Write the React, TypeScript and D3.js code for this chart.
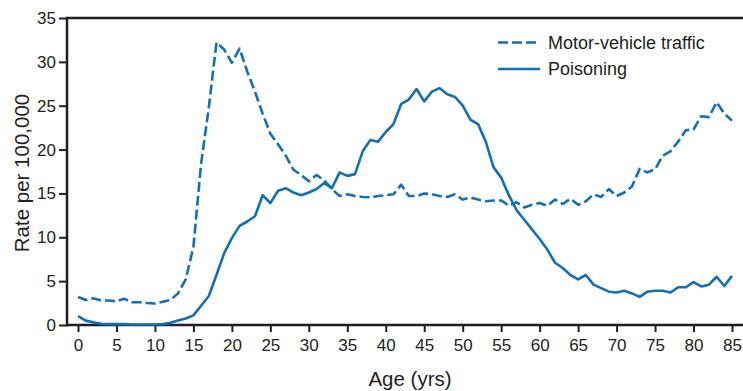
import React, { useRef, useEffect } from 'react';
import * as d3 from 'd3';

// ages 0..85, one value per year
const ages = [
  0, 1, 2, 3, 4, 5, 6, 7, 8, 9, 10, 11, 12, 13, 14, 15, 16, 17, 18, 19,
  20, 21, 22, 23, 24, 25, 26, 27, 28, 29, 30, 31, 32, 33, 34, 35, 36, 37, 38, 39,
  40, 41, 42, 43, 44, 45, 46, 47, 48, 49, 50, 51, 52, 53, 54, 55, 56, 57, 58, 59,
  60, 61, 62, 63, 64, 65, 66, 67, 68, 69, 70, 71, 72, 73, 74, 75, 76, 77, 78, 79,
  80, 81, 82, 83, 84, 85
];

const motorVehicle = [
  3.2, 2.85, 3.05, 2.8, 2.8, 2.7, 3.0, 2.6, 2.6, 2.5,
  2.45, 2.65, 2.85, 3.6, 5.2, 8.9, 18.4, 24.8, 32.2, 31.4,
  29.9, 31.5, 28.9, 26.6, 24.1, 21.8, 20.6, 19.3, 17.7, 17.1,
  16.4, 17.1, 16.5, 15.5, 14.7, 14.9, 14.7, 14.6, 14.55, 14.7,
  14.8, 14.9, 16.0, 14.7, 14.7, 15.0, 14.9, 14.7, 14.6, 14.9,
  14.3, 14.55, 14.3, 14.1, 14.2, 14.2, 13.6, 14.0, 13.4, 13.7,
  13.9, 13.6, 14.3, 13.8, 14.4, 13.7, 14.1, 14.9, 14.6, 15.5,
  14.7, 15.1, 15.8, 17.8, 17.4, 17.75, 19.3, 19.8, 20.9, 22.2,
  22.3, 23.8, 23.7, 25.4, 24.1, 23.3
];

const poisoning = [
  1.0, 0.5, 0.3, 0.15, 0.1, 0.1, 0.1, 0.05, 0.05, 0.05,
  0.05, 0.1, 0.25, 0.5, 0.75, 1.1, 2.2, 3.3, 5.7, 8.2,
  9.9, 11.3, 11.8, 12.4, 14.8, 13.9, 15.3, 15.6, 15.1, 14.8,
  15.1, 15.5, 16.2, 15.6, 17.4, 17.0, 17.2, 19.8, 21.1, 20.9,
  22.0, 22.9, 25.2, 25.7, 26.9, 25.5, 26.6, 27.0, 26.3, 26.0,
  25.0, 23.4, 22.9, 20.9, 18.0, 16.8, 14.8, 13.1, 12.0, 10.9,
  9.8, 8.6, 7.1, 6.5, 5.7, 5.2, 5.7, 4.6, 4.2, 3.8,
  3.7, 3.9, 3.6, 3.2, 3.8, 3.9, 3.9, 3.7, 4.3, 4.3,
  4.9, 4.4, 4.6, 5.5, 4.45, 5.6
];

const xTicks = [0, 5, 10, 15, 20, 25, 30, 35, 40, 45, 50, 55, 60, 65, 70, 75, 80, 85];
const yTicks = [0, 5, 10, 15, 20, 25, 30, 35];

const seriesNames = ['Motor-vehicle traffic', 'Poisoning'];

function App() {
  var width = 743;
  var height = 391;
  var blue = '#1270b8';
  var ink = '#231f20';
  var font = '"Liberation Sans", Arial, sans-serif';

  const ref = useRef(null);

  useEffect(() => {
    const svg = d3.select(ref.current);
    svg.selectAll('*').remove();

    var x = d3.scaleLinear().domain([0, 85]).range([78, 732]);
    var y = d3.scaleLinear().domain([0, 35]).range([325, 18]);
    var left = 67;

    // frame top + axis lines
    svg.append('line')
      .attr('x1', left).attr('x2', width)
      .attr('y1', y(35)).attr('y2', y(35))
      .attr('stroke', ink).attr('stroke-width', 2.5);
    svg.append('line')
      .attr('x1', left).attr('x2', width)
      .attr('y1', y(0)).attr('y2', y(0))
      .attr('stroke', ink).attr('stroke-width', 2.5);
    svg.append('line')
      .attr('x1', left).attr('x2', left)
      .attr('y1', y(35) - 1.2).attr('y2', y(0) + 1.2)
      .attr('stroke', ink).attr('stroke-width', 2.5);

    // y axis
    svg.append('g')
      .attr('transform', `translate(${left},0)`)
      .call(d3.axisLeft(y).tickValues(yTicks).tickSize(8).tickPadding(3))
      .call(g => g.select('.domain').remove())
      .call(g => g.selectAll('.tick line').attr('stroke', ink).attr('stroke-width', 2))
      .call(g => g.selectAll('.tick text')
        .attr('fill', ink)
        .style('font-family', font)
        .style('font-size', '17px'));

    // x axis
    svg.append('g')
      .attr('transform', `translate(0,${y(0)})`)
      .call(d3.axisBottom(x).tickValues(xTicks).tickSize(7).tickPadding(7))
      .call(g => g.select('.domain').remove())
      .call(g => g.selectAll('.tick line').attr('stroke', ink).attr('stroke-width', 2))
      .call(g => g.selectAll('.tick text')
        .attr('fill', ink)
        .style('font-family', font)
        .style('font-size', '17px'));

    // lines
    var line = d3.line()
      .x((d, i) => x(ages[i]))
      .y(d => y(d));

    svg.append('path')
      .datum(motorVehicle)
      .attr('d', line)
      .attr('fill', 'none')
      .attr('stroke', blue)
      .attr('stroke-width', 2.6)
      .attr('stroke-dasharray', '10,4')
      .attr('stroke-linejoin', 'round');

    svg.append('path')
      .datum(poisoning)
      .attr('d', line)
      .attr('fill', 'none')
      .attr('stroke', blue)
      .attr('stroke-width', 2.6)
      .attr('stroke-linejoin', 'round');

    // axis titles
    svg.append('text')
      .attr('x', 410).attr('y', 386)
      .attr('text-anchor', 'middle')
      .attr('fill', ink)
      .style('font-family', font)
      .style('font-size', '20.5px')
      .text('Age (yrs)');

    svg.append('text')
      .attr('transform', 'translate(29,173) rotate(-90)')
      .attr('text-anchor', 'middle')
      .attr('fill', ink)
      .style('font-family', font)
      .style('font-size', '20.5px')
      .text('Rate per 100,000');

    // legend
    var legend = svg.append('g');
    seriesNames.forEach((name, i) => {
      var ly = 42.5 + i * 26.5;
      legend.append('line')
        .attr('x1', 498).attr('x2', 540)
        .attr('y1', ly).attr('y2', ly)
        .attr('stroke', blue)
        .attr('stroke-width', 2.6)
        .attr('stroke-dasharray', i === 0 ? '10,4' : null);
      legend.append('text')
        .attr('x', 548).attr('y', ly + 6)
        .attr('fill', ink)
        .style('font-family', font)
        .style('font-size', '18px')
        .text(name);
    });
  }, []);

  return (
    <div style={{ position: 'absolute', left: 0, top: 0, width: width, height: height, background: '#fff' }}>
      <svg ref={ref} width={width} height={height} style={{ display: 'block' }}></svg>
    </div>
  );
}

export default App;
